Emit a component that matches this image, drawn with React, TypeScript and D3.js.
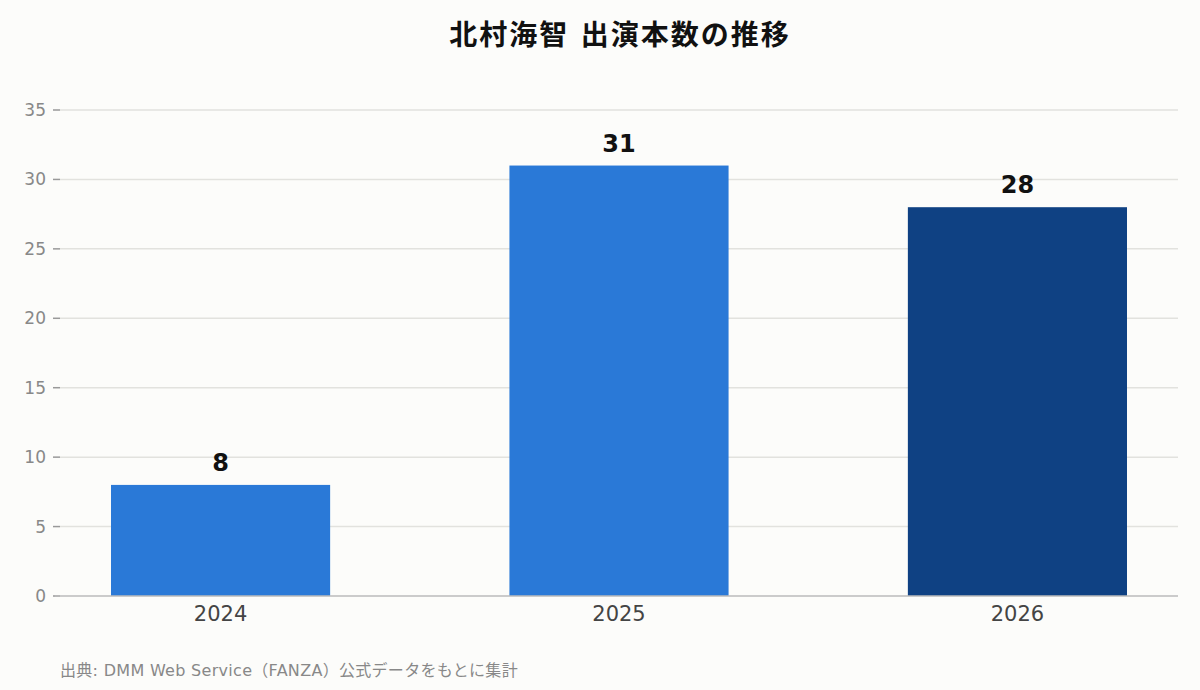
import * as d3 from 'd3';
import React from 'react';

const years = ['2024', '2025', '2026'];
const counts = [8, 31, 28];
const barColors = ['#2a79d7', '#2a79d7', '#0f4183'];
const yTicks = [0, 5, 10, 15, 20, 25, 30, 35];

const W = 1200;
const H = 690;
const font = '"DejaVu Sans", "Noto Sans CJK JP", sans-serif';

const App = () => {
  const x = d3
    .scaleBand<string>()
    .domain(years)
    .range([60, 1178])
    .paddingInner(0.45)
    .paddingOuter(0.128);
  const y = d3.scaleLinear().domain([0, 35]).range([596, 110]);

  return (
    <svg
      width={W}
      height={H}
      style={{ position: 'absolute', left: 0, top: 0, background: '#fcfcfa' }}
      fontFamily={font}
    >
      <rect width={W} height={H} fill='#fcfcfa' />
      <text
        x={620}
        y={45}
        textAnchor='middle'
        fontSize={28}
        letterSpacing={2}
        fontWeight='bold'
        fill='#111'
      >
        北村海智 出演本数の推移
      </text>

      {yTicks.map((t) => (
        <g key={t}>
          {t > 0 && <line x1={60} x2={1178} y1={y(t)} y2={y(t)} stroke='#e2e2de' strokeWidth={1.5} />}
          <line x1={53} x2={60} y1={y(t)} y2={y(t)} stroke='#999' strokeWidth={1.5} />
          <text x={46} y={y(t)} dy='0.35em' textAnchor='end' fontSize={17} fill='#888'>
            {t}
          </text>
        </g>
      ))}

      {years.map((yr, i) => (
        <g key={yr}>
          <rect
            x={x(yr)}
            y={y(counts[i])}
            width={x.bandwidth()}
            height={y(0) - y(counts[i])}
            fill={barColors[i]}
          />
          <text
            x={(x(yr) ?? 0) + x.bandwidth() / 2}
            y={y(counts[i]) - 14}
            textAnchor='middle'
            fontSize={24}
            fontWeight='bold'
            fill='#111'
          >
            {counts[i]}
          </text>
          <text
            x={(x(yr) ?? 0) + x.bandwidth() / 2}
            y={621}
            textAnchor='middle'
            fontSize={21}
            fill='#444'
          >
            {yr}
          </text>
        </g>
      ))}

      <line x1={55} x2={1178} y1={y(0)} y2={y(0)} stroke='#bbb' strokeWidth={1.5} />

      <text x={60} y={676} fontSize={16} letterSpacing={0.3} fill='#888'>
        出典: DMM Web Service（FANZA）公式データをもとに集計
      </text>
    </svg>
  );
};

export default App;
